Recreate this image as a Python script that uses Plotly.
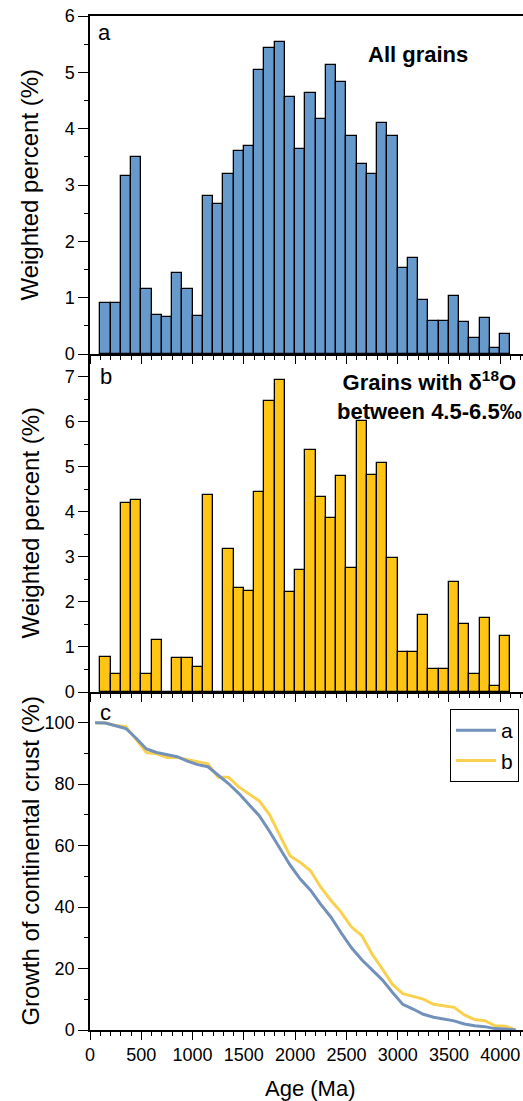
import plotly.graph_objects as go

# ---------------- data ----------------
bin_centres = [150, 250, 350, 450, 550, 650, 750, 850, 950, 1050,
               1150, 1250, 1350, 1450, 1550, 1650, 1750, 1850, 1950, 2050,
               2150, 2250, 2350, 2450, 2550, 2650, 2750, 2850, 2950, 3050,
               3150, 3250, 3350, 3450, 3550, 3650, 3750, 3850, 3950, 4050]

all_grains = [0.91, 0.91, 3.16, 3.49, 1.16, 0.70, 0.66, 1.44, 1.15, 0.67,
              2.80, 2.67, 3.19, 3.60, 3.69, 5.05, 5.44, 5.53, 4.57, 3.64,
              4.63, 4.17, 5.13, 4.82, 3.87, 3.37, 3.20, 4.10, 3.87, 1.52,
              1.71, 0.96, 0.59, 0.59, 1.03, 0.56, 0.29, 0.64, 0.10, 0.35]

d18o_grains = [0.78, 0.39, 4.20, 4.25, 0.39, 1.16, 0.00, 0.76, 0.76, 0.55,
               4.37, 0.00, 3.17, 2.31, 2.24, 4.44, 6.46, 6.92, 2.21, 2.70,
               5.37, 4.32, 3.85, 4.80, 2.76, 6.01, 4.82, 5.08, 2.98, 0.89,
               0.89, 1.70, 0.50, 0.50, 2.44, 1.51, 0.39, 1.64, 0.13, 1.25]

growth_ages = [50, 150, 250, 350, 450, 550, 650, 750, 850, 950, 1050,
               1150, 1250, 1350, 1450, 1550, 1650, 1750, 1850, 1950, 2050,
               2150, 2250, 2350, 2450, 2550, 2650, 2750, 2850, 2950, 3050,
               3150, 3250, 3350, 3450, 3550, 3650, 3750, 3850, 3950, 4050, 4150]

growth_a = [100, 99.93, 99.02, 98.11, 94.95, 91.46, 90.30, 89.60, 88.94, 87.50, 86.35,
            85.68, 82.88, 80.21, 77.02, 73.42, 69.73, 64.68, 59.24, 53.71, 49.14,
            45.50, 40.87, 36.70, 31.57, 26.75, 22.88, 19.51, 16.31, 12.21, 8.34,
            6.82, 5.11, 4.15, 3.56, 2.97, 1.94, 1.38, 1.09, 0.45, 0.35, 0]

growth_b = [100, 99.89, 99.11, 98.72, 94.52, 90.27, 89.88, 88.72, 88.72, 87.96, 87.20,
            86.65, 82.28, 82.28, 79.11, 76.80, 74.56, 70.12, 63.66, 56.74, 54.53,
            51.83, 46.46, 42.14, 38.29, 33.49, 30.73, 24.72, 19.90, 14.82, 11.84,
            10.95, 10.06, 8.36, 7.86, 7.36, 4.92, 3.41, 3.02, 1.38, 1.25, 0]

x_ticks = [0, 500, 1000, 1500, 2000, 2500, 3000, 3500, 4000]

# ---------------- styling ----------------
FONT = "Arial, Liberation Sans, sans-serif"
W, H = 523, 1101
ML, MR, MT, MB = 89.5, 0, 16, 71
PW = W - ML - MR
PH = H - MT - MB

def px(x):
    return (x - ML) / PW

def py(y):
    return (H - MB - y) / PH

fig = go.Figure()

fig.add_trace(go.Bar(x=bin_centres, y=all_grains, width=100,
                     marker=dict(color="#6699CC", line=dict(color="black", width=1.3)),
                     xaxis="x", yaxis="y", showlegend=False))
fig.add_trace(go.Bar(x=bin_centres, y=d18o_grains, width=100,
                     marker=dict(color="#FFC414", line=dict(color="black", width=1.3)),
                     xaxis="x2", yaxis="y2", showlegend=False))
fig.add_trace(go.Scatter(x=growth_ages, y=growth_b, mode="lines", name="b",
                         line=dict(color="#F9D14F", width=3), legendrank=2,
                         xaxis="x3", yaxis="y3"))
fig.add_trace(go.Scatter(x=growth_ages, y=growth_a, mode="lines", name="a",
                         line=dict(color="#7191BA", width=3), legendrank=1,
                         xaxis="x3", yaxis="y3"))

xcommon = dict(range=[0, 4222], tickmode="array", tickvals=x_ticks,
               ticks="outside", ticklen=8, tickwidth=1.3, tickcolor="black",
               minor=dict(dtick=100, tick0=0, ticks="outside", ticklen=4,
                          tickwidth=1.3, tickcolor="black"),
               showline=True, linecolor="black", linewidth=1.5,
               showgrid=False, zeroline=False,
               tickfont=dict(family=FONT, size=18, color="black"))

ycommon = dict(ticks="outside", ticklen=10, tickwidth=1.3, tickcolor="black",
               showline=True, linecolor="black", linewidth=1.5,
               showgrid=False, zeroline=False,
               tickfont=dict(family=FONT, size=18, color="black"))

fig.update_layout(
    width=W, height=H,
    margin=dict(l=ML, r=MR, t=MT, b=MB),
    paper_bgcolor="white", plot_bgcolor="white",
    bargap=0,
    xaxis=dict(xcommon, domain=[0, 1], anchor="y", showticklabels=False, mirror=True),
    xaxis2=dict(xcommon, domain=[0, 1], anchor="y2", showticklabels=False, matches="x"),
    xaxis3=dict(xcommon, domain=[0, 1], anchor="y3", matches="x"),
    yaxis=dict(ycommon, domain=[2/3, 1], anchor="x", range=[0, 6], dtick=1, tick0=0,
               minor=dict(dtick=0.5, ticks="outside", ticklen=4, tickwidth=1.3, tickcolor="black")),
    yaxis2=dict(ycommon, domain=[1/3, 2/3], anchor="x2", range=[0, 7.5], dtick=1, tick0=0,
                minor=dict(dtick=0.5, ticks="outside", ticklen=4, tickwidth=1.3, tickcolor="black")),
    yaxis3=dict(ycommon, domain=[0, 1/3], anchor="x3", range=[0, 110], dtick=20, tick0=0,
                minor=dict(dtick=10, ticks="outside", ticklen=4, tickwidth=1.3, tickcolor="black")),
    legend=dict(x=px(519), y=py(709), xanchor="right", yanchor="top",
                bordercolor="black", borderwidth=1, bgcolor="white",
                font=dict(family=FONT, size=21, color="black"),
                tracegroupgap=0, itemwidth=40),
    font=dict(family=FONT, color="black"),
)

ann = []
def add_text(text, x, y, size, bold=False, angle=0):
    ann.append(dict(text=("<b>%s</b>" % text) if bold else text,
                    x=px(x), y=py(y), xref="paper", yref="paper",
                    xanchor="center", yanchor="middle", showarrow=False,
                    textangle=angle, font=dict(family=FONT, size=size, color="black")))

add_text("Weighted percent (%)", 29, 185, 24, angle=-90)
add_text("Weighted percent (%)", 29, 523, 24, angle=-90)
add_text("Growth of continental crust (%)", 29, 861, 24, angle=-90)
add_text("Age (Ma)", 310, 1088, 22)
add_text("a", 104, 33, 22)
add_text("b", 106, 376, 22)
add_text("c", 105, 712, 22)
add_text("All grains", 418, 55, 22, bold=True)
add_text("Grains with δ<sup>18</sup>O<br>between 4.5-6.5‰", 429, 395, 22, bold=True)

fig.update_layout(annotations=ann)

fig.write_html("out.html")
